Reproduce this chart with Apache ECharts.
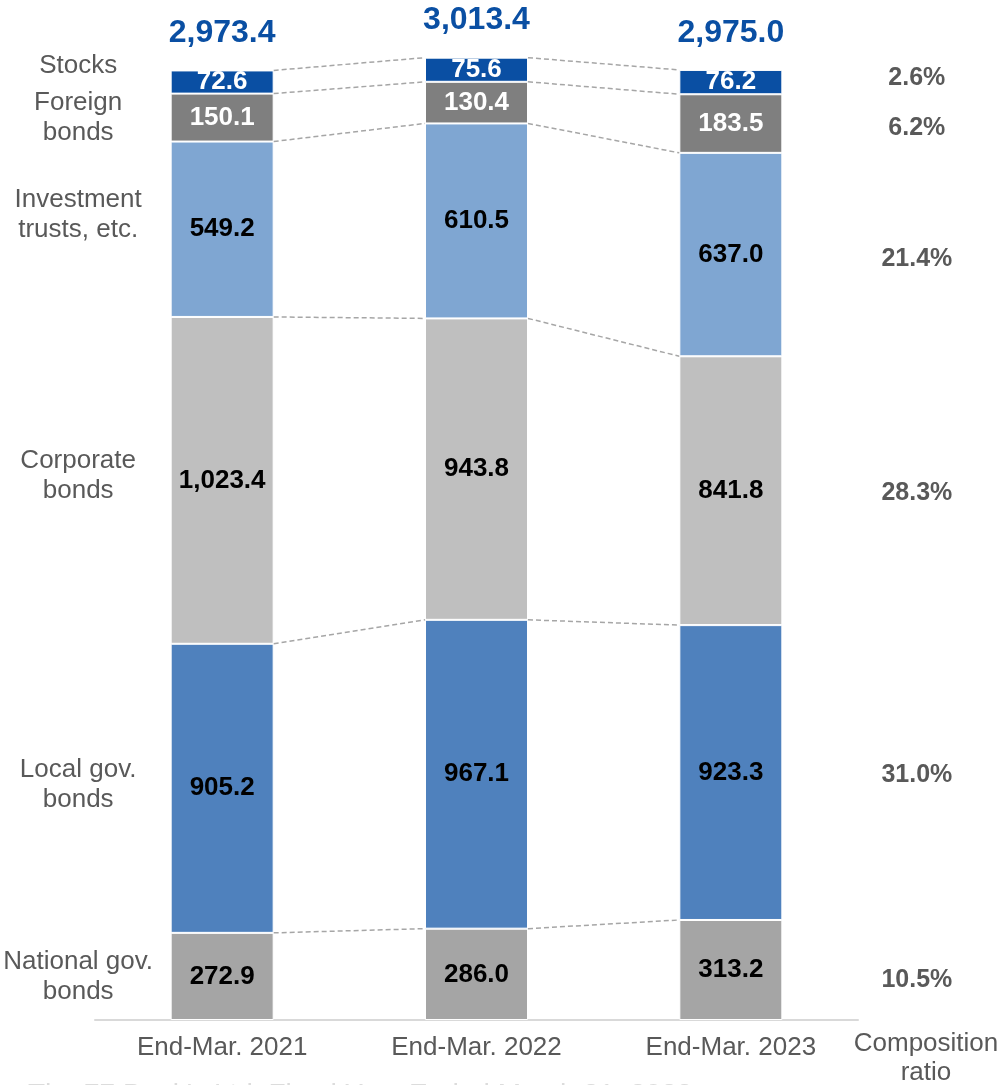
<!DOCTYPE html>
<html lang="en">
<head>
    <meta charset="UTF-8">
    <title>Securities holdings</title>
    <script src="https://cdn.jsdelivr.net/npm/echarts@6/dist/echarts.min.js"></script>
    <style>
        html, body { margin: 0; padding: 0; background: #ffffff; }
        #main { width: 1000px; height: 1085px; }
    </style>
</head>
<body>
<div id="main"></div>
<script type="text/javascript">
    // data
    var categories = ['End-Mar. 2021', 'End-Mar. 2022', 'End-Mar. 2023'];
    var seriesNames = ['National gov.\nbonds', 'Local gov.\nbonds', 'Corporate\nbonds',
                       'Investment\ntrusts, etc.', 'Foreign\nbonds', 'Stocks'];
    var national   = [272.9, 286.0, 313.2];
    var local      = [905.2, 967.1, 923.3];
    var corporate  = [1023.4, 943.8, 841.8];
    var investment = [549.2, 610.5, 637.0];
    var foreign    = [150.1, 130.4, 183.5];
    var stocks     = [72.6, 75.6, 76.2];
    var totals     = [2973.4, 3013.4, 2975.0];
    var ratios     = ['10.5%', '31.0%', '28.3%', '21.4%', '6.2%', '2.6%'];

    var FONT = "'Liberation Sans', Arial, sans-serif";
    var BAR_W = 103;
    var colors = ['#a5a5a5', '#4f81bd', '#bfbfbf', '#7fa6d2', '#7f7f7f', '#0a4fa3'];
    var labelColors = ['#000', '#000', '#000', '#000', '#fff', '#fff'];
    var leftDy  = [0, -3, -5, -14, 0, -16];     // nudge of the left hand names
    var rightDy = [10, 3, 2, 5, 5, -4];         // nudge of the ratio texts

    var layers = [national, local, corporate, investment, foreign, stocks];

    function fmt(v) {
        return v.toLocaleString('en-US', { minimumFractionDigits: 1, maximumFractionDigits: 1 });
    }

    // cumulative tops per column
    function cum(i) {
        var out = [], s = 0;
        for (var k = 0; k < layers.length; k++) { s += layers[k][i]; out.push(s); }
        return out;
    }

    var barSeries = layers.map(function (arr, k) {
        return {
            name: seriesNames[k],
            type: 'bar',
            stack: 'total',
            barWidth: BAR_W,
            itemStyle: { color: colors[k], borderColor: '#ffffff', borderWidth: 1 },
            label: {
                show: true,
                position: 'inside',
                color: labelColors[k],
                fontFamily: FONT,
                fontWeight: 'bold',
                fontSize: 26,
                formatter: function (p) { return fmt(p.value); }
            },
            data: arr
        };
    });

    // connectors, totals, side labels
    var extra = {
        type: 'custom',
        clip: false,
        silent: true,
        data: categories.map(function (c, i) { return [i, totals[i]]; }),
        renderItem: function (params, api) {
            var i = api.value(0);
            var top = cum(i);
            var children = [];
            var pTop = api.coord([i, totals[i]]);
            children.push({
                type: 'text', x: pTop[0], y: pTop[1] - 37,
                style: { text: fmt(totals[i]), fill: '#0a4fa3', font: 'bold 32px ' + FONT,
                         align: 'center', verticalAlign: 'middle' }
            });
            if (i < categories.length - 1) {
                var nxt = cum(i + 1);
                for (var k = 0; k < layers.length; k++) {
                    var a = api.coord([i, top[k]]);
                    var b = api.coord([i + 1, nxt[k]]);
                    children.push({
                        type: 'line',
                        shape: { x1: a[0] + BAR_W / 2, y1: a[1], x2: b[0] - BAR_W / 2, y2: b[1] },
                        style: { stroke: '#a6a6a6', lineWidth: 1.5, lineDash: [5, 3] }
                    });
                }
            }
            var k2, lo, mid, p;
            if (i === 0) {
                for (k2 = 0; k2 < layers.length; k2++) {
                    lo = k2 === 0 ? 0 : top[k2 - 1];
                    mid = (lo + top[k2]) / 2;
                    p = api.coord([i, mid]);
                    children.push({
                        type: 'text', x: p[0] - 144, y: p[1] + leftDy[k2],
                        style: { text: seriesNames[k2], fill: '#595959', font: '26px ' + FONT,
                                 lineHeight: 30, align: 'center', verticalAlign: 'middle' }
                    });
                }
            }
            if (i === categories.length - 1) {
                for (k2 = 0; k2 < layers.length; k2++) {
                    lo = k2 === 0 ? 0 : top[k2 - 1];
                    mid = (lo + top[k2]) / 2;
                    p = api.coord([i, mid]);
                    children.push({
                        type: 'text', x: p[0] + 186, y: p[1] + rightDy[k2],
                        style: { text: ratios[k2], fill: '#595959', font: 'bold 25px ' + FONT,
                                 align: 'center', verticalAlign: 'middle' }
                    });
                }
            }
            return { type: 'group', children: children };
        }
    };

    var chart = echarts.init(document.getElementById('main'));
    chart.setOption({
        backgroundColor: '#ffffff',
        animation: false,
        grid: { left: 95, right: 142, top: 30, bottom: 65 },
        xAxis: {
            type: 'category',
            data: categories,
            axisLine: { lineStyle: { color: '#d9d9d9', width: 2 } },
            axisTick: { show: false },
            axisLabel: { color: '#595959', fontSize: 26, fontFamily: FONT, margin: 15 }
        },
        yAxis: { type: 'value', min: 0, max: 3100, show: false },
        graphic: [
            {
                type: 'text', x: 926, y: 1029,
                style: { text: 'Composition\nratio', fill: '#595959', font: '26px ' + FONT,
                         lineHeight: 29, align: 'center' }
            },
            {
                type: 'text', x: 28, y: 1081,
                style: { text: "The 77 Bank's Ltd. Fixed Year Ended March 31, 2023",
                         fill: '#dcdcdc', font: '28px ' + FONT }
            }
        ],
        series: barSeries.concat([extra])
    });
</script>
</body>
</html>
